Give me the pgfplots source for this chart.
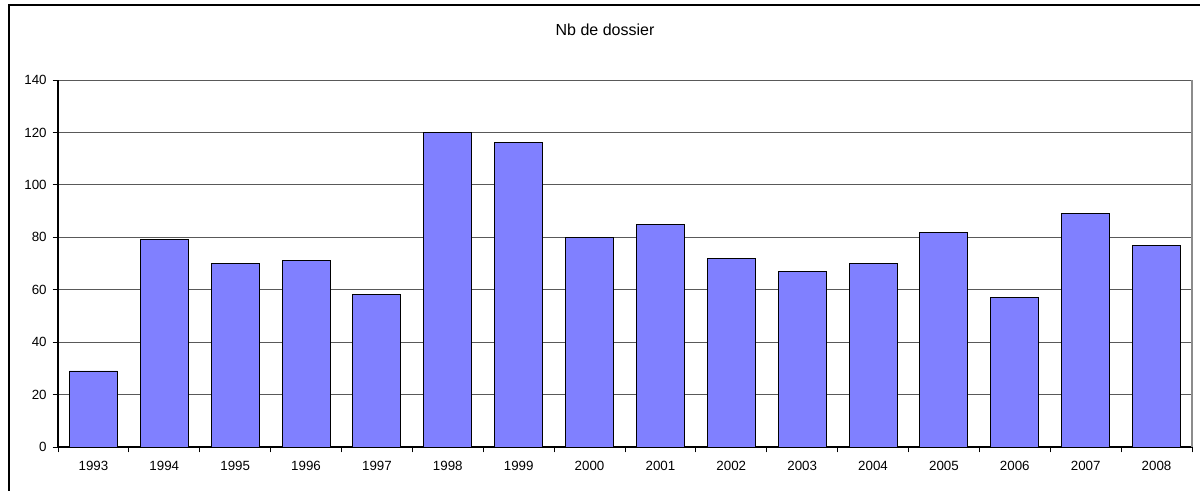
\documentclass[border=0pt]{standalone}
\usepackage{pgfplots}
\pgfplotsset{compat=1.18}
\usepackage{fontspec}
\setmainfont{Liberation Sans}
\definecolor{barblue}{HTML}{8080FF}
\begin{document}
\begin{tikzpicture}[x=0.75pt,y=0.75pt]
\useasboundingbox (0,0) rectangle (1200,490);
\begin{scope}
\clip (0,0) rectangle (1200,490);
\draw[black,line width=1.2pt] (9,-20) -- (9,485) -- (1220,485);
\end{scope}
\node[font=\fontsize{12}{14}\selectfont] at (605,460) {Nb de dossier};
\begin{axis}[
  at={(43.5pt,32.25pt)}, anchor=south west,
  scale only axis,
  width=850.5pt, height=275.25pt,
  ymin=0, ymax=140, ytick={0,20,...,140},
  xmin=-0.5, xmax=15.5,
  xtick={0,...,15},
  xticklabels={1993,1994,1995,1996,1997,1998,1999,2000,2001,2002,2003,2004,2005,2006,2007,2008},
  minor xtick={-0.5,0.5,1.5,2.5,3.5,4.5,5.5,6.5,7.5,8.5,9.5,10.5,11.5,12.5,13.5,14.5,15.5},
  major x tick style={draw=none},
  minor x tick style={draw=black, line width=0.6pt},
  ytick style={draw=black, line width=0.6pt},
  major tick length=4pt, minor tick length=4pt,
  tick align=outside,
  axis x line*=bottom, axis y line*=left,
  axis line style={black, line width=0.8pt, -},
  ymajorgrids, grid style={black!65, line width=0.6pt},
  ticklabel style={font=\fontsize{10}{12}\selectfont},
  /pgf/number format/assume math mode=true,
  yticklabel style={xshift=-1pt},
  xticklabel style={yshift=-3pt},
  ybar, bar width=36pt,
  clip=false,
]
\addplot[fill=barblue, draw=black, line width=0.7pt] coordinates {
(0,29) (1,79) (2,70) (3,71) (4,58) (5,120) (6,116) (7,80)
(8,85) (9,72) (10,67) (11,70) (12,82) (13,57) (14,89) (15,77)};
\draw[black!45, line width=1pt] (rel axis cs:1,0) -- (rel axis cs:1,1);
\end{axis}
\end{tikzpicture}
\end{document}
